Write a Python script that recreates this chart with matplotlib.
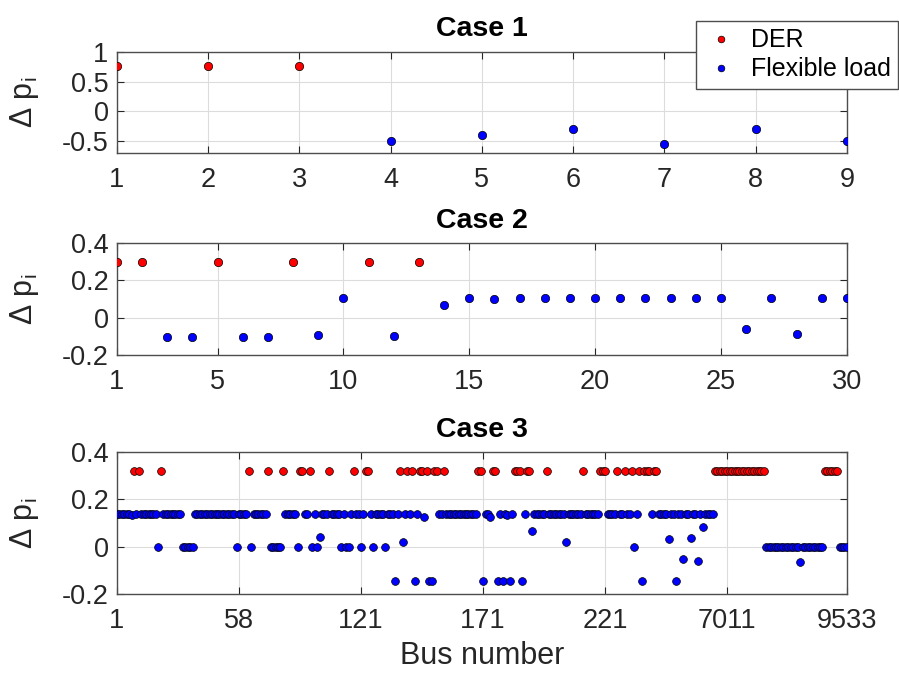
import matplotlib
matplotlib.use("Agg")
import matplotlib.pyplot as plt
import numpy as np

# === data ===
# case 1 (9 buses)
dp1 = [0.76, 0.76, 0.76, -0.5, -0.4, -0.3, -0.55, -0.3, -0.5]
der1 = [1, 2, 3]

# case 2 (30 buses)
dp2 = [0.3, 0.3, -0.105, -0.105, 0.3, -0.105, -0.105, 0.3, -0.095, 0.105,
       0.3, -0.1, 0.3, 0.07, 0.105, 0.1, 0.105, 0.105, 0.105, 0.105,
       0.105, 0.105, 0.105, 0.105, 0.105, -0.06, 0.105, -0.085, 0.105, 0.105]
der2 = [1, 2, 5, 8, 11, 13]

# case 3 (300 buses, plotted by index)
dp3 = [
    0.14, 0.14, 0.14, 0.14, 0.14, 0.14, 0.133, 0.32, 0.14, 0.32,      # 1-10
    0.14, 0.14, 0.14, 0.14, 0.14, 0.14, 0.14, 0.0, 0.32, 0.14,        # 11-20
    0.14, 0.14, 0.14, 0.14, 0.14, 0.14, 0.14, 0.0, 0.0, 0.0,          # 21-30
    0.0, 0.0, 0.14, 0.14, 0.14, 0.14, 0.14, 0.14, 0.14, 0.14,         # 31-40
    0.14, 0.14, 0.14, 0.14, 0.14, 0.14, 0.14, 0.14, 0.14, 0.0,        # 41-50
    0.14, 0.14, 0.14, 0.14, 0.32, 0.0, 0.14, 0.14, 0.14, 0.14,        # 51-60
    0.14, 0.14, 0.32, 0.0, 0.0, 0.0, 0.0, 0.0, 0.32, 0.14,            # 61-70
    0.14, 0.14, 0.14, 0.14, 0.0, 0.32, 0.32, 0.14, 0.14, 0.32,        # 71-80
    0.0, 0.14, 0.0, 0.04, 0.14, 0.14, 0.14, 0.32, 0.14, 0.14,         # 81-90
    0.14, 0.14, 0.0, 0.14, 0.0, 0.0, 0.14, 0.32, 0.14, 0.14,          # 91-100
    0.0, 0.14, 0.32, 0.32, 0.14, 0.0, 0.14, 0.14, 0.14, 0.14,         # 101-110
    0.0, 0.14, 0.14, 0.14, -0.146, 0.14, 0.32, 0.02, 0.14, 0.32,      # 111-120
    0.14, 0.32, -0.146, 0.14, 0.32, 0.32, 0.126, 0.32, -0.146, -0.146,  # 121-130
    0.32, 0.32, 0.14, 0.14, 0.32, 0.14, 0.14, 0.14, 0.14, 0.14,       # 131-140
    0.14, 0.14, 0.14, 0.14, 0.14, 0.14, 0.14, 0.14, 0.32, 0.32,       # 141-150
    -0.146, 0.14, 0.14, 0.126, 0.32, 0.32, -0.146, 0.14, -0.146, 0.14,  # 151-160
    0.135, -0.146, 0.14, 0.32, 0.32, 0.32, -0.146, 0.14, 0.32, 0.32,  # 161-170
    0.068, 0.14, 0.14, 0.14, 0.14, 0.14, 0.32, 0.14, 0.14, 0.14,      # 171-180
    0.14, 0.14, 0.14, 0.14, 0.021, 0.14, 0.14, 0.14, 0.14, 0.14,      # 181-190
    0.14, 0.32, 0.14, 0.14, 0.14, 0.14, 0.14, 0.14, 0.32, 0.32,       # 191-200
    0.32, 0.14, 0.14, 0.14, 0.14, 0.32, 0.14, 0.14, 0.32, 0.14,       # 201-210
    0.14, 0.32, 0.0, 0.14, 0.32, -0.146, 0.32, 0.32, 0.32, 0.14,      # 211-220
    0.32, 0.32, 0.14, 0.14, 0.14, 0.14, 0.034, 0.14, 0.14, -0.146,    # 221-230
    0.14, 0.14, -0.053, 0.14, 0.14, 0.036, 0.14, 0.14, -0.06, 0.14,   # 231-240
    0.082, 0.14, 0.14, 0.14, 0.14, 0.32, 0.32, 0.32, 0.32, 0.32,      # 241-250
    0.32, 0.32, 0.32, 0.32, 0.32, 0.32, 0.32, 0.32, 0.32, 0.32,       # 251-260
    0.32, 0.32, 0.32, 0.32, 0.32, 0.32, 0.0, 0.0, 0.0, 0.0,           # 261-270
    0.0, 0.0, 0.0, 0.0, 0.0, 0.0, 0.0, 0.0, 0.0, 0.0,                 # 271-280
    -0.064, 0.0, 0.0, 0.0, 0.0, 0.0, 0.0, 0.0, 0.0, 0.0,              # 281-290
    0.32, 0.32, 0.32, 0.32, 0.32, 0.32, 0.0, 0.0, 0.0, 0.0,           # 291-300
]
der3 = [8, 10, 19, 55, 63, 69, 76, 77, 80, 88, 98, 103, 104, 117, 120, 122,
        125, 126, 128, 131, 132, 135, 149, 150, 155, 156, 164, 165, 166, 169,
        170, 177, 192, 199, 200, 201, 206, 209, 212, 215, 217, 218, 219, 221,
        222, 246, 247, 248, 249, 250, 251, 252, 253, 254, 255, 256, 257, 258,
        259, 260, 261, 262, 263, 264, 265, 266, 291, 292, 293, 294, 295, 296]
xt3 = [1, 51, 101, 151, 201, 251, 300]
xt3_labels = ["1", "58", "121", "171", "221", "7011", "9533"]

TXT = "#262626"
plt.rcParams["font.family"] = ["Liberation Sans", "DejaVu Sans"]
plt.rcParams["mathtext.fontset"] = "custom"
plt.rcParams["mathtext.rm"] = "Liberation Sans"


def draw_case(ax, dp, der, title, ylim, yticks, ms=6.0):
    idx = np.arange(1, len(dp) + 1)
    dp = np.array(dp)
    is_der = np.isin(idx, der)
    ax.plot(idx[is_der], dp[is_der], "o", color="red", mec="black", mew=0.5,
            ms=ms, ls="none", label="DER", zorder=3)
    ax.plot(idx[~is_der], dp[~is_der], "o", color="blue", mec="black", mew=0.5,
            ms=ms, ls="none", label="Flexible load", zorder=3)
    ax.set_xlim(1, len(dp))
    ax.set_ylim(*ylim)
    ax.set_yticks(yticks)
    ax.set_yticklabels([f"{v:g}" for v in yticks])
    ax.set_title(title, fontsize=20.5, fontweight="bold", color="black", pad=11)
    ax.set_ylabel("Δ p$_\\mathregular{i}$", fontsize=22, color=TXT)
    ax.yaxis.set_label_coords(-0.104, 0.5)
    ax.grid(True, color="#dcdcdc", lw=0.8)
    ax.set_axisbelow(True)
    ax.tick_params(direction="in", top=True, right=True, labelsize=19.5,
                   colors=TXT, length=5)
    ax.tick_params(axis="x", pad=10)
    ax.tick_params(axis="y", pad=6)
    for s in ax.spines.values():
        s.set_color("#4d4d4d")
        s.set_linewidth(1.0)


fig = plt.figure(figsize=(8.99, 6.75), dpi=100)
ax1 = fig.add_axes([0.130, 0.773, 0.812, 0.1505])
ax2 = fig.add_axes([0.130, 0.474, 0.812, 0.166])
ax3 = fig.add_axes([0.130, 0.120, 0.812, 0.2104])

draw_case(ax1, dp1, der1, "Case 1", (-0.7, 1.0), [-0.5, 0, 0.5, 1])
ax1.set_xticks(range(1, 10))

draw_case(ax2, dp2, der2, "Case 2", (-0.2, 0.4), [-0.2, 0, 0.2, 0.4])
ax2.set_xticks([1, 5, 10, 15, 20, 25, 30])

draw_case(ax3, dp3, der3, "Case 3", (-0.2, 0.4), [-0.2, 0, 0.2, 0.4], ms=5.6)
ax3.set_xticks(xt3)
ax3.set_xticklabels(xt3_labels)
ax3.set_xlabel("Bus number", fontsize=22, color=TXT, labelpad=5)

leg = ax1.legend(loc="upper right", bbox_to_anchor=(0.999, 0.969),
                 bbox_transform=fig.transFigure, fontsize=18, fancybox=False,
                 framealpha=1, edgecolor="#4d4d4d", handletextpad=0.5,
                 borderpad=0.3, labelspacing=0.2, handlelength=1.4,
                 borderaxespad=0, markerscale=0.8)
leg.get_frame().set_linewidth(1.0)
for t in leg.get_texts():
    t.set_color("black")

fig.savefig("out.png", dpi=100)
